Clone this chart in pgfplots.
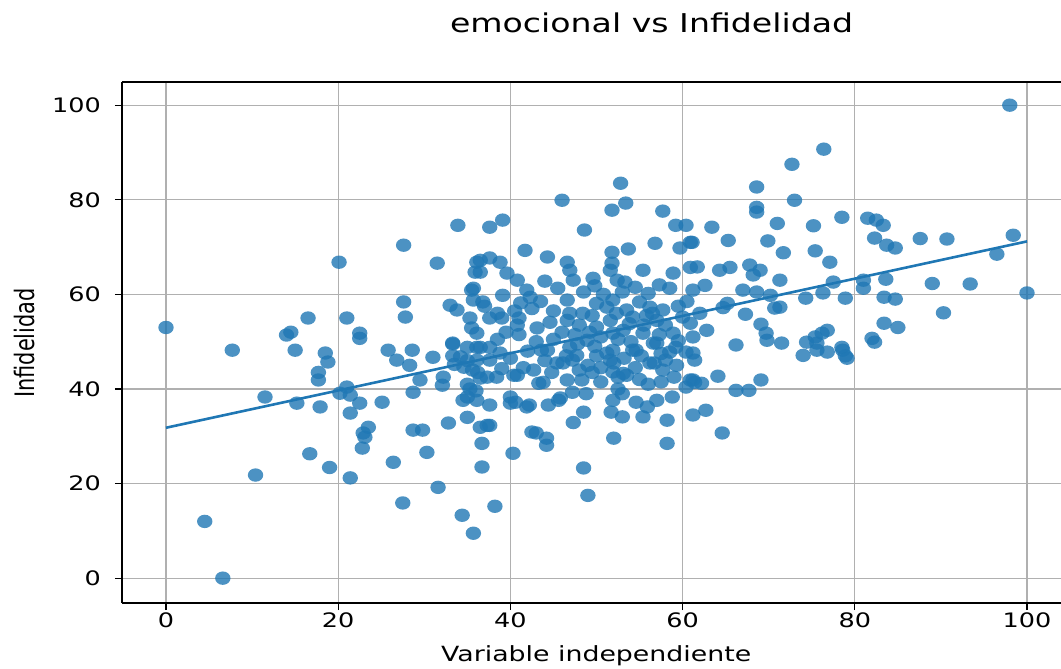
\documentclass[border=0pt]{standalone}
\usepackage{pgfplots}
\pgfplotsset{compat=1.18}
\usepackage{pgfplotstable}
\usepackage{fontspec}
\setmainfont{DejaVu Sans}[FakeStretch=1.28]
\newfontfamily\ylabfont{DejaVu Sans}
\definecolor{tabblue}{HTML}{1F77B4}
\definecolor{gridgray}{HTML}{B0B0B0}
\pgfplotstableread{
x y
0 53
4.5 12
6.6 0
7.7 48.2
10.4 21.8
11.5 38.3
14 51.4
14.5 52
15 48.2
15.2 37
16.5 55
16.7 26.3
17.7 43.5
17.7 41.9
17.9 36.2
18.5 47.6
18.8 45.7
19 23.4
20.1 66.8
20.2 39.1
21 55
21 40.4
21.4 38.7
21.4 34.9
21.4 21.2
22.5 37
22.5 51.8
22.5 50.7
22.9 30.7
23.1 29.8
23.5 31.9
22.8 27.5
25.1 37.2
25.8 48.2
26.4 24.5
26.8 46.1
27.5 15.9
27.6 70.4
27.6 58.4
27.8 55.2
28.3 45
28.6 48.2
28.7 39.3
28.7 31.3
29.8 31.3
30.3 26.6
29.5 41.9
31 46.7
31.5 66.6
31.6 19.2
32.2 42.5
32.1 40.8
32.8 32.8
33 57.7
33.8 56.7
33.3 49.5
33.3 47
33.5 45.2
33.9 74.6
34.4 13.3
34.5 37.6
35 38.3
35 34
35.7 9.5
35.5 60.9
35.3 55
35.5 52.9
35.9 64.7
36.1 66.8
36.5 67.2
37.6 67.7
38.8 66.8
36.5 64.7
37.6 74.2
39.1 75.7
39.6 64.5
40.8 63
35.7 61.3
36.8 58.4
35.7 58.8
37.6 55
39.1 59.8
39 55
41.9 60.9
42.3 59.4
36.1 51.8
36.1 48.8
37.6 48.8
33.3 49.7
35 48.8
36.5 48.8
34.2 46.8
35 46
35.6 44
36.2 43.5
34.6 44.6
35 41
36 39.6
36.1 46.1
37.6 46.1
38.8 47.6
36.5 42.3
38.4 42.5
37.3 42.5
36.1 37.6
37.6 36.6
35.3 40
40 38.3
40 37
37.3 32.3
37.6 32.3
36.5 31.9
36.7 28.5
36.7 23.5
38.2 15.2
40.3 26.4
39.5 52
41 51.5
43 50
42 48
40 46.5
44 46
41.5 44.5
40.8 42.9
37 57.5
38.5 56
40.5 56.5
41 55
42.5 57
40.8 53.5
43.1 52.9
44.6 54.1
41.7 69.3
44.3 67.9
46.6 66.8
46.9 65.1
45.5 61.3
46.6 58.8
46 79.9
48.6 73.6
52.8 83.5
53.4 79.3
51.8 77.8
57.7 77.6
59.2 74.6
60.4 74.6
56.8 70.8
60.9 71
59.7 69.8
51.8 68.9
53.7 69.6
51.8 66.6
51.6 65.1
55.4 65.1
49.6 63.4
47.3 63
52.4 63
53.3 62.6
58.9 64.5
58.5 61.3
60.9 65.7
46.6 54.5
46.9 56
48.4 56
50 58.1
51.2 57.3
51.9 58.8
53.5 56.7
55 58.4
56.2 57.3
57.7 56.7
51.6 54.5
54.2 55.2
57 54.5
60 55.2
60.9 53.9
50 53.1
51.9 51.8
53.1 52.4
55.4 51.8
56.6 49.7
58.9 51.8
48.9 50.3
46.9 48.8
44.3 48.2
51.9 48.2
54.2 48.2
58.5 47.8
43.6 48.2
45.4 45.5
46.1 45.5
47.2 46.1
47.7 47.1
51.6 46.1
51.2 47.6
52 45.5
53.1 43.3
53.5 42.9
51.9 43.6
54.6 48.2
57 49.7
58 46.1
56.7 45.5
56.2 45.5
57.7 44
59.3 45
60.9 41.9
60.4 47.8
61.4 46.1
61.2 41.9
52.5 42.5
48.3 41.9
46.6 41.9
47.2 39.3
43.3 41.2
43.8 41.4
40.4 42.9
40.6 37.2
42.2 36.6
44.4 36.6
45.6 37.6
45.8 38.1
47.3 32.9
48.5 35.1
51.7 35.1
51.9 37.6
53 34.1
54.6 37.2
55.9 36.2
57 37.6
58.8 38.3
55.4 34.1
58.2 33.4
58.2 28.5
52 29.6
48.5 23.3
49 17.5
43 30.7
44.2 29.6
44.2 28.1
42.5 30.9
41.9 36.2
60.4 40.4
61.4 41.4
62.2 41.2
64.1 42.7
61.2 34.5
62.7 35.5
64.6 30.7
66.2 49.3
69.1 41.9
66.2 39.7
67.7 39.7
68.6 82.7
73 79.9
68.6 78.4
68.6 77.4
72.7 87.5
76.4 90.7
98 100
78.5 76.3
81.5 76.1
82.5 75.7
83.3 74.6
63.4 74.2
71 75
75.2 74.5
87.6 71.8
90.7 71.7
98.4 72.5
96.5 68.5
100 60.3
93.4 62.2
82.3 71.9
83.7 70.4
84.7 69.8
65.3 71.4
69.9 71.3
71.7 68.8
75.4 69.2
77.1 66.8
61.1 71
61.7 65.8
64.3 65.1
65.5 65.7
67.8 66.2
69 65.1
68.2 64.1
71.3 63
77.5 62.6
81 63
83.6 63.2
89 62.3
62.6 61.9
67 60.9
68.6 60.5
70.2 59.8
74.3 59.2
76.3 60.3
78.9 59.2
81 61.3
83.4 59.4
84.7 59
61.2 60.9
65.2 58.1
64.7 57.2
67.3 55.8
71.3 57.3
70.7 57.1
62.8 52.4
69.1 53.7
69.7 51.8
69.8 50.3
71.5 49.7
74 47.1
75.6 49.7
76.2 51.8
76.8 52.4
78.5 48.8
78.9 47
82.3 49.9
83.4 53.9
85 53
61.2 51
61.2 47.6
90.3 56.1
74.4 49.9
75.4 51
75.6 48.2
76.8 47.8
78.6 48.2
79.1 46.5
82 50.7
49 45
50 47
49.5 43.5
50.5 44.5
48 44
43.5 58.5
45 56.5
45 50.5
46 52
47.5 51.5
48 53.5
49.5 55.5
50.5 51
52.5 50.5
54 50
55.5 53.5
56.5 56
55 42
56 41
57.5 41.5
59 42.5
59.5 57.5
60.5 58.5
62 56
53 39
52.5 40
48.5 60.5
49.8 61.8
50.8 60
53 60.5
54.5 61.5
56 60.2
57.3 62
55.8 55.5
58 53.5
59.5 50.2
57.3 51.5
53.8 53.8
52.3 56
49.2 52
47.8 49.5
46.5 47
49.8 49
53.2 46.5
55.2 47
57.5 47.5
59.2 48.8
54.5 44.5
50.5 41.5
48.8 39
44.8 43.5
42.7 44
39 44.3
38.5 50.5
41.2 58.2
44 62.8
}\scatterdata
\begin{document}
\begin{tikzpicture}
\path[use as bounding box] (-122bp,-66bp) rectangle (939bp,603bp);
\begin{axis}[
  scale only axis,
  width=939bp, height=521bp,
  xmin=-5.11, xmax=103.95,
  ymin=-5.25, ymax=104.9,
  axis x line*=box,
  axis y line*=left,
  xtick={0,20,40,60,80,100},
  ytick={0,20,40,60,80,100},
  xtick pos=lower, ytick pos=left,
  tick align=outside,
  major tick length=7bp,
  every tick/.style={black, line width=1.1bp},
  axis line style={black, line width=1.4bp},
  grid=major,
  major grid style={gridgray, line width=1.1bp},
  /pgf/number format/assume math mode=true,
  ticklabel style={font=\fontsize{20}{24}\selectfont},
  xticklabel style={inner sep=0pt, yshift=-3bp},
  yticklabel style={inner sep=0pt, xshift=-14bp},
  xlabel={Variable independiente},
  xlabel style={font=\fontsize{21}{25}\selectfont, inner sep=0pt, at={(axis description cs:0.505,0)}, anchor=north, yshift=-42bp},
  title={emocional vs Infidelidad},
  title style={font=\fontsize{26}{30}\selectfont, inner sep=0pt, at={(axis description cs:0.564,1)}, anchor=center, yshift=53bp},
]
\addplot[only marks, mark=*, color=tabblue, mark size=6.7bp, mark options={draw opacity=0, fill=tabblue, fill opacity=0.8, xscale=1.15}] table[x=x, y=y] {\scatterdata};
\addplot[tabblue, line width=2.6bp, no marks] coordinates {(0,31.8) (100,71.2)};
\end{axis}
\node[rotate=90, yscale=1.28, anchor=south, inner sep=0pt, font=\fontsize{21}{25}\selectfont] at (-87bp,260bp) {\ylabfont Infidelidad};
\end{tikzpicture}
\end{document}
